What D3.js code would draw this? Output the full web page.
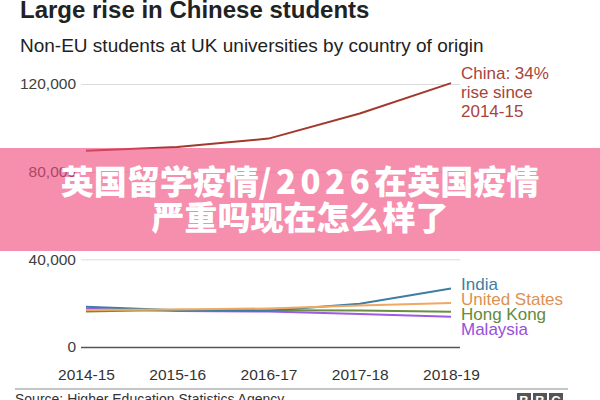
<!DOCTYPE html>
<html><head><meta charset="utf-8">
<script src="https://cdn.jsdelivr.net/npm/d3@7/dist/d3.min.js"></script>
<style>
html,body{margin:0;padding:0;background:#fff;}
svg{display:block;font-family:"Liberation Sans",Arial,Helvetica,sans-serif;}
</style></head>
<body>
<svg id="chart" width="600" height="400"></svg>
<script>
// ---- data ----
const years = ["2014-15","2015-16","2016-17","2017-18","2018-19"];
const china = [89540, 91215, 95090, 106530, 120385];
const india = [18320, 16745, 16550, 19750, 26685];
const unitedStates = [16865, 17115, 17580, 18885, 20120];
const hongKong = [16215, 16990, 16715, 16695, 16135];
const malaysia = [17405, 16370, 16165, 15015, 13835];
const yTicks = [0, 40000, 80000, 120000];
const seriesNames = ["China","India","United States","Hong Kong","Malaysia"];
const chinaLabel = ["China: 34%","rise since","2014-15"];
const titleText = "Large rise in Chinese students";
const subtitleText = "Non-EU students at UK universities by country of origin";
const sourceText = "Source: Higher Education Statistics Agency";
const bannerLines = [["英国留学疫情","/2026","在英国疫情"],["严重吗现在怎么样了"]];

const series = [
  {name:"China", values:china, color:"#a2392d", text:"#a8433a"},
  {name:"India", values:india, color:"#3e7ea2", text:"#3e7ea2"},
  {name:"United States", values:unitedStates, color:"#f0a862", text:"#dc9152"},
  {name:"Hong Kong", values:hongKong, color:"#6a8f3f", text:"#648a3a"},
  {name:"Malaysia", values:malaysia, color:"#9d5ae2", text:"#9650dc"}
];

const svg = d3.select("#chart");
const x = d3.scalePoint().domain(years).range([86, 451]);
const y = d3.scaleLinear().domain([0, 120000]).range([347, 84]);
const gridX0 = 81, gridX1 = 460;

// title
svg.append("text").attr("x",20).attr("y",17.5).attr("font-size",24).attr("font-weight","bold")
  .attr("fill","#222").text(titleText);
svg.append("text").attr("x",20).attr("y",52).attr("font-size",19).attr("fill","#222").text(subtitleText);

// grid
const yAxis = d3.axisLeft(y).tickValues(yTicks).tickFormat(d3.format(",")).tickSize(0).tickPadding(5);
const gy = svg.append("g").attr("transform",`translate(${gridX0},0)`).call(yAxis);
gy.select(".domain").remove();
gy.selectAll(".tick text").attr("font-size",15.5).attr("fill","#404040")
  .attr("font-family","'Liberation Sans',Arial,sans-serif");
gy.selectAll(".tick").append("line").attr("x1",0).attr("x2",gridX1-gridX0)
  .attr("stroke",d=>d===0?"#555":"#dcdcdc").attr("stroke-width",d=>d===0?1.5:1);

// x axis
const xAxis = d3.axisBottom(x).tickSize(0).tickPadding(0);
const gx = svg.append("g").attr("transform","translate(0,365)").call(xAxis);
gx.select(".domain").remove();
gx.selectAll(".tick text").attr("font-size",15.5).attr("fill","#333").attr("dy","0.95em")
  .attr("font-family","'Liberation Sans',Arial,sans-serif");

// lines
const line = d3.line().x((d,i)=>x(years[i])).y(d=>y(d));
const order = [4,3,1,2,0];
svg.append("g").selectAll("path").data(order.map(i=>series[i])).join("path")
  .attr("d",d=>line(d.values)).attr("fill","none").attr("stroke",d=>d.color)
  .attr("stroke-width",2).attr("stroke-linejoin","round");

// China label
const last = years.length-1;
const cl = svg.append("text").attr("x",461).attr("y",y(china[last])-4)
  .attr("font-size",17).attr("fill",series[0].text);
cl.selectAll("tspan").data(chinaLabel).join("tspan").attr("x",461)
  .attr("dy",(d,i)=>i===0?0:19).text(d=>d);

// other labels: spread to avoid overlap
const others = series.slice(1);
const ends = others.map(s=>y(s.values[last]));
const spacing = 14.8;
const meanEnd = d3.mean(ends) + 1.5;
const labY = ends.map((e,i)=> meanEnd + (i-(ends.length-1)/2)*spacing);
svg.append("g").selectAll("text").data(others).join("text")
  .attr("x",461).attr("y",(d,i)=>labY[i]).attr("dy","0.35em")
  .attr("font-size",17).attr("fill",d=>d.text).text(d=>d.name);

// footer
svg.append("line").attr("x1",15).attr("x2",568).attr("y1",389).attr("y2",389)
  .attr("stroke","#8a8a8a").attr("stroke-width",1);
svg.append("text").attr("x",15).attr("y",404).attr("font-size",14).attr("fill","#333").text(sourceText);
const bbc = svg.append("g");
["B","B","C"].forEach((l,i)=>{
  bbc.append("rect").attr("x",517+i*16).attr("y",393).attr("width",14).attr("height",14).attr("fill","#555");
  bbc.append("text").attr("x",524+i*16).attr("y",405).attr("text-anchor","middle")
    .attr("font-size",13).attr("font-weight","bold").attr("fill","#fff").text(l);
});

// banner overlay
svg.append("rect").attr("x",0).attr("y",148).attr("width",600).attr("height",103)
  .attr("fill","rgb(240,72,122)").attr("fill-opacity",0.62);
const bt = svg.append("g").attr("font-family","'Noto Sans CJK SC','Noto Sans CJK JP',sans-serif")
  .attr("font-weight",900).attr("font-size",33).attr("fill","#fff").attr("text-anchor","middle");
bannerLines.forEach((parts,li)=>{
  const t = bt.append("text").attr("x",300).attr("y",194+li*36);
  parts.forEach(p=>{
    const ts = t.append("tspan").text(p);
    if (/^[\/0-9]+$/.test(p)) ts.attr("letter-spacing",4.5);
  });
});
</script>
</body></html>
